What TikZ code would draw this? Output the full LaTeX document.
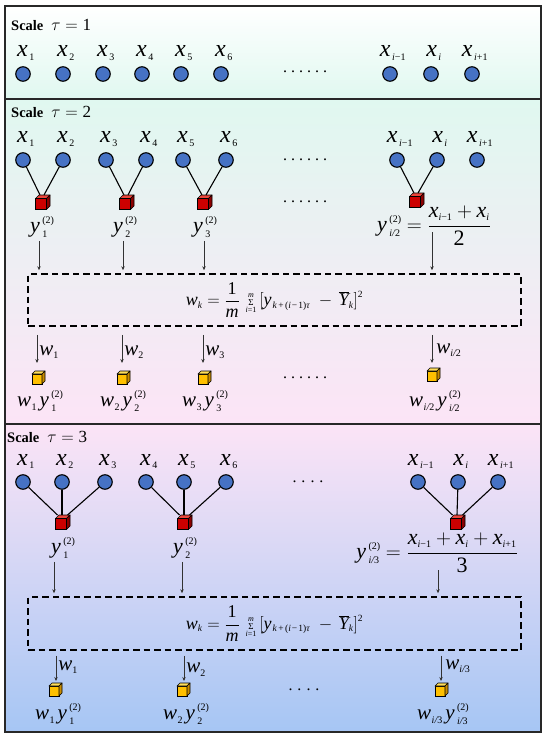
\documentclass[tikz,border=0pt]{standalone}
\usepackage{fontspec}
\setmainfont{Liberation Serif}
\usetikzlibrary{arrows.meta,calc}
\definecolor{nblue}{RGB}{70,114,196}
\definecolor{cred}{RGB}{204,0,0}
\definecolor{credtop}{RGB}{235,70,60}
\definecolor{credside}{RGB}{140,0,0}
\definecolor{cyel}{RGB}{255,192,0}
\definecolor{cyeltop}{RGB}{255,222,90}
\definecolor{cyelside}{RGB}{200,140,0}
\definecolor{mint}{RGB}{224,248,240}
\definecolor{lavw}{RGB}{240,240,250}
\definecolor{pinkc}{RGB}{252,228,246}
\definecolor{lavc}{RGB}{214,214,248}
\definecolor{skyc}{RGB}{166,198,244}
\definecolor{framec}{RGB}{40,40,40}
\definecolor{arrgray}{RGB}{50,50,50}
% text-based math pieces
\newlength{\scrw}
\newcommand{\V}[1]{\mbox{\itshape #1}}
\newcommand{\sm}[1]{\mbox{\fontsize{10}{10}\selectfont #1}}
\newcommand{\smf}[1]{\mbox{\fontsize{9.5}{9.5}\selectfont #1}}
\newcommand{\xs}[1]{$\V{x}_{\kern1.5pt\sm{#1}}$}
\newcommand{\scripts}[2]{%
  \sbox0{\sm{#1}}\sbox2{\sm{#2}}%
  \setlength{\scrw}{\wd0}\ifdim\wd2>\scrw\setlength{\scrw}{\wd2}\fi
  \makebox[\scrw][l]{\makebox[0pt][l]{\raisebox{9.5pt}{\usebox0}}\raisebox{-4.5pt}{\usebox2}}}
\newcommand{\ys}[1]{\V{y}\kern2.5pt\scripts{(2)}{#1}}
\newcommand{\ws}[1]{\V{w}_{\kern0.5pt\sm{#1}}\kern2.5pt}
\newcommand{\dfr}[2]{{\displaystyle\frac{#1}{#2}}}
\newcommand{\dotsix}{.\hspace{4pt}.\hspace{4pt}.\hspace{4pt}.\hspace{4pt}.\hspace{4pt}.}
\newcommand{\dotfour}{.\hspace{5pt}.\hspace{5pt}.\hspace{5pt}.}
\newcommand{\scaletxt}[1]{{\fontsize{14.5}{14.5}\selectfont\bfseries Scale}\hspace{8pt}{\fontsize{17}{17}\selectfont$\tau=\mbox{#1}$}}
% cube: name, position, size, front, top, side, depth
\newcommand{\cubeat}[7]{%
  \node[cubefront, minimum size=#3, fill=#4] (#1) at (#2) {};
  \filldraw[cubeedge, fill=#5] (#1.north west) -- ($(#1.north west)+(#7,-#7)$) -- ($(#1.north east)+(#7,-#7)$) -- (#1.north east) -- cycle;
  \filldraw[cubeedge, fill=#6] (#1.north east) -- ($(#1.north east)+(#7,-#7)$) -- ($(#1.south east)+(#7,-#7)$) -- (#1.south east) -- cycle;
}
\newcommand{\wkformula}{$\V{w}_{\smf{\itshape k}}=\dfr{\mbox{1}}{\V{m}}\,\mathop{\mbox{\fontsize{9}{9}\selectfont Σ}}\limits^{\mbox{\fontsize{8}{8}\selectfont\itshape m}}_{\mbox{\fontsize{8}{8}\selectfont\itshape i\upshape=1}}\Big[\V{y}\kern1pt_{\smf{\itshape k\hspace{1.5pt}\upshape+\hspace{1.5pt}(\itshape i\hspace{1pt}\upshape−\hspace{1pt}1)\itshape τ}}\;-\,\overline{\V{Y}}_{\smf{\itshape k}}\Big]^{\smf{2}}$}
\begin{document}
\begin{tikzpicture}[x=1pt,y=-1pt,
  xc/.style={circle, draw=black, line width=1.1pt, fill=nblue, minimum size=14.5pt, inner sep=0pt},
  xlab/.style={anchor=base, inner sep=0pt, font=\fontsize{24}{24}\selectfont},
  ylab/.style={inner sep=0pt, font=\fontsize{22}{22}\selectfont},
  link/.style={line width=1.1pt, black},
  arr/.style={draw=arrgray, line width=0.7pt, -{Stealth[length=4pt,width=3.4pt]}},
  wlab/.style={inner sep=0pt, anchor=west, font=\fontsize{21}{21}\selectfont},
  blab/.style={inner sep=0pt, font=\fontsize{21}{21}\selectfont},
  dbox/.style={draw=black, line width=1.5pt, dash pattern=on 6.5pt off 4pt, minimum width=493pt, inner sep=0pt, font=\fontsize{18}{18}\selectfont},
  panelframe/.style={draw=framec, line width=1.4pt},
  dotsrow/.style={inner sep=0pt, font=\fontsize{16}{16}\selectfont},
  cubefront/.style={draw=black, line width=0.6pt, inner sep=0pt, outer sep=0pt},
  cubeedge/.style={draw=black, line width=0.6pt, line join=round},
  scalelab/.style={anchor=west, inner sep=0pt},
]
\useasboundingbox (0,0) rectangle (550,738);
% panels
\shade[top color=white, bottom color=mint] (5,6) rectangle (541,99);
\shade[top color=mint, middle color=lavw, bottom color=pinkc] (5,99) rectangle (541,424);
\shade[top color=pinkc, middle color=lavc, bottom color=skyc] (5,424) rectangle (541,732);
\draw[panelframe] (5,6) rectangle (541,99);
\draw[panelframe] (5,99) rectangle (541,424);
\draw[panelframe] (5,424) rectangle (541,732);

% ---------- Panel 1 ----------
\node[scalelab] (sc1) at (11,25) {\scaletxt{1}};
\foreach \x/\s [count=\k] in {23/1,63/2,103/3,142/4,181/5,221/6,390/{{\itshape i}−1},431/{\itshape i},472/{{\itshape i}+1}} {
  \node[xc] (p1c\k) at (\x,74) {};
  \node[xlab] (p1l\k) at (\x+3,57) {\xs{\s}};
}
\node[dotsrow] (p1d) at (305,72) {\dotsix};

% ---------- Panel 2 ----------
\node[scalelab] (sc2) at (11,112) {\scaletxt{2}};
\foreach \x/\s [count=\k] in {23/1,63/2,106/3,146/4,183/5,226/6,397/{{\itshape i}−1},437/{\itshape i},477/{{\itshape i}+1}} {
  \node[xc] (p2c\k) at (\x,160) {};
  \node[xlab] (p2l\k) at (\x+3,143) {\xs{\s}};
}
\node[dotsrow] (p2d1) at (305,160) {\dotsix};
\node[dotsrow] (p2d2) at (305,202) {\dotsix};
\cubeat{r21}{41,204}{11pt}{cred}{credtop}{credside}{3.5}
\cubeat{r22}{125,204}{11pt}{cred}{credtop}{credside}{3.5}
\cubeat{r23}{203,204}{11pt}{cred}{credtop}{credside}{3.5}
\cubeat{r24}{415,202}{11pt}{cred}{credtop}{credside}{3.5}
\draw[link] (p2c1) -- ($(r21.north)+(-1,-3.5)$);
\draw[link] (p2c2) -- ($(r21.north)+(3,-3.5)$);
\draw[link] (p2c3) -- ($(r22.north)+(-1,-3.5)$);
\draw[link] (p2c4) -- ($(r22.north)+(3,-3.5)$);
\draw[link] (p2c5) -- ($(r23.north)+(-1,-3.5)$);
\draw[link] (p2c6) -- ($(r23.north)+(3,-3.5)$);
\draw[link] (p2c7) -- ($(r24.north)+(-1,-3.5)$);
\draw[link] (p2c8) -- ($(r24.north)+(3,-3.5)$);
\node[ylab] (y21) at (42,227) {\ys{1}};
\node[ylab] (y22) at (125,227) {\ys{2}};
\node[ylab] (y23) at (205,227) {\ys{3}};
\node[ylab] (y24) at (434,226) {$\ys{\itshape i/\upshape 2}=\dfr{\V{x}_{\sm{{\itshape i}−1}}+\V{x}_{\sm{\itshape i}}}{\mbox{2}}$};
\node[dbox, minimum height=52pt] (box2) at (274.5,300) {\wkformula};
\draw[arr] ($(y21.south)+(-3,3)$) -- ($(y21.south |- box2.north)+(-3,-3)$);
\draw[arr] ($(y22.south)+(-2,3)$) -- ($(y22.south |- box2.north)+(-2,-3)$);
\draw[arr] ($(y23.south)+(-1,3)$) -- ($(y23.south |- box2.north)+(-1,-3)$);
\coordinate (a24) at (432,232);
\draw[arr] (a24) -- ($(a24 |- box2.north)+(0,-3)$);
\cubeat{w21}{37,379}{10pt}{cyel}{cyeltop}{cyelside}{3}
\cubeat{w22}{122,379}{10pt}{cyel}{cyeltop}{cyelside}{3}
\cubeat{w23}{203,379}{10pt}{cyel}{cyeltop}{cyelside}{3}
\cubeat{w24}{432,376}{10pt}{cyel}{cyeltop}{cyelside}{3}
\draw[arr] ($(w21.north |- box2.south)+(0,8)$) -- ($(w21.north)+(0,-11)$) node[wlab, pos=0.62, xshift=2pt] {$\V{w}_{\sm{1}}$};
\draw[arr] ($(w22.north |- box2.south)+(0,8)$) -- ($(w22.north)+(0,-11)$) node[wlab, pos=0.62, xshift=2pt] {$\V{w}_{\sm{2}}$};
\draw[arr] ($(w23.north |- box2.south)+(0,8)$) -- ($(w23.north)+(0,-11)$) node[wlab, pos=0.62, xshift=2pt] {$\V{w}_{\sm{3}}$};
\draw[arr] ($(w24.north |- box2.south)+(0,8)$) -- ($(w24.north)+(0,-8)$) node[wlab, pos=0.55, xshift=4pt] {$\V{w}_{\sm{\itshape i/\upshape 2}}$};
\node[blab] (l21) at (40,401) {$\ws{1}\ys{1}$};
\node[blab] (l22) at (123,401) {$\ws{2}\ys{2}$};
\node[blab] (l23) at (205,401) {$\ws{3}\ys{3}$};
\node[blab] (l24) at (435,401) {$\ws{\itshape i/\upshape 2}\ys{\itshape i/\upshape 2}$};
\node[dotsrow] (p2d3) at (305,378) {\dotsix};

% ---------- Panel 3 ----------
\node[scalelab] (sc3) at (7,437) {\scaletxt{3}};
\foreach \x/\s [count=\k] in {23/1,62/2,105/3,146/4,184/5,226/6,418/{{\itshape i}−1},458/{\itshape i},498/{{\itshape i}+1}} {
  \node[xc] (p3c\k) at (\x,482) {};
  \node[xlab] (p3l\k) at (\x+3,465) {\xs{\s}};
}
\node[dotsrow] (p3d1) at (308,482) {\dotfour};
\cubeat{r31}{61,524}{11pt}{cred}{credtop}{credside}{3.5}
\cubeat{r32}{183,524}{11pt}{cred}{credtop}{credside}{3.5}
\cubeat{r33}{456,524}{11pt}{cred}{credtop}{credside}{3.5}
\draw[link] (p3c1) -- ($(r31.north west)+(2,-3.5)$);
\draw[link] (p3c2) -- ($(r31.north)+(1,-3.5)$);
\draw[link] (p3c3) -- ($(r31.north east)+(1,-3.5)$);
\draw[link] (p3c4) -- ($(r32.north west)+(2,-3.5)$);
\draw[link] (p3c5) -- ($(r32.north)+(1,-3.5)$);
\draw[link] (p3c6) -- ($(r32.north east)+(1,-3.5)$);
\draw[link] (p3c7) -- ($(r33.north west)+(2,-3.5)$);
\draw[link] (p3c8) -- ($(r33.north)+(1,-3.5)$);
\draw[link] (p3c9) -- ($(r33.north east)+(1,-3.5)$);
\node[ylab] (y31) at (63,548) {\ys{1}};
\node[ylab] (y32) at (185,548) {\ys{2}};
\node[ylab] (y33) at (437,553) {$\ys{\itshape i/\upshape 3}=\dfr{\V{x}_{\sm{{\itshape i}−1}}+\V{x}_{\sm{\itshape i}}+\V{x}_{\sm{{\itshape i}+1}}}{\mbox{3}}$};
\node[dbox, minimum height=53pt] (box3) at (274.5,623.5) {\wkformula};
\draw[arr] ($(y31.south)+(-9,3)$) -- ($(y31.south |- box3.north)+(-9,-3)$);
\draw[arr] ($(y32.south)+(-3,3)$) -- ($(y32.south |- box3.north)+(-3,-3)$);
\coordinate (a33) at (438,570);
\draw[arr] (a33) -- ($(a33 |- box3.north)+(0,-3)$);
\cubeat{w31}{54,691}{10pt}{cyel}{cyeltop}{cyelside}{3}
\cubeat{w32}{182,691}{10pt}{cyel}{cyeltop}{cyelside}{3}
\cubeat{w33}{440,691}{10pt}{cyel}{cyeltop}{cyelside}{3}
\draw[arr] ($(w31.north |- box3.south)+(2,5)$) -- ($(w31.north)+(2,-5)$) node[wlab, pos=0.45, xshift=2pt] {$\V{w}_{\sm{1}}$};
\draw[arr] ($(w32.north |- box3.south)+(2,5)$) -- ($(w32.north)+(2,-5)$) node[wlab, pos=0.55, xshift=2pt] {$\V{w}_{\sm{2}}$};
\draw[arr] ($(w33.north |- box3.south)+(1,5)$) -- ($(w33.north)+(1,-5)$) node[wlab, pos=0.4, xshift=4pt] {$\V{w}_{\sm{\itshape i/\upshape 3}}$};
\node[blab] (l31) at (58,714) {$\ws{1}\ys{1}$};
\node[blab] (l32) at (186,714) {$\ws{2}\ys{2}$};
\node[blab] (l33) at (443,714) {$\ws{\itshape i/\upshape 3}\ys{\itshape i/\upshape 3}$};
\node[dotsrow] (p3d2) at (304,690) {\dotfour};
\end{tikzpicture}
\end{document}
